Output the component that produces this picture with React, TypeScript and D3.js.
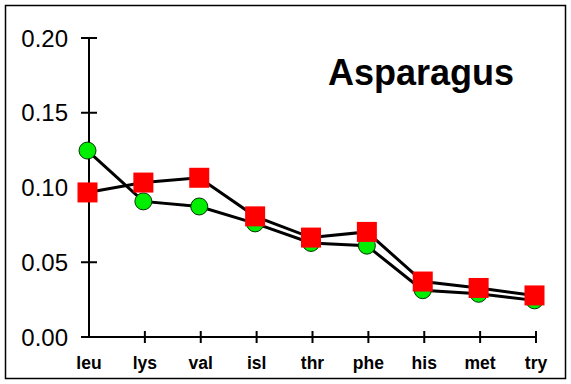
import React from "react";
import * as d3 from "d3";

const categories = ["leu", "lys", "val", "isl", "thr", "phe", "his", "met", "try"];
const greenSeries = [0.1247, 0.0907, 0.0873, 0.076, 0.0629, 0.0611, 0.0313, 0.0289, 0.0245];
const redSeries = [0.0967, 0.1033, 0.1065, 0.0807, 0.0665, 0.0703, 0.0371, 0.0328, 0.0278];
const yTicks = [0, 0.05, 0.1, 0.15, 0.2];
const title = "Asparagus";

export default function App() {
  const W = 571, H = 384;
  const x = d3.scalePoint<string>().domain(categories).range([89, 536]);
  const y = d3.scaleLinear().domain([0, 0.2]).range([337, 38]);
  const mx = (c: string) => (x(c) as number) - 1.5;
  const line = d3
    .line<number>()
    .x((_, i) => mx(categories[i]))
    .y((d) => y(d));
  const font = "'Liberation Sans', Arial, sans-serif";
  return (
    <svg width={W} height={H} style={{ position: "absolute", left: 0, top: 0, background: "#fff" }}>
      <rect x={5.5} y={5.5} width={560} height={373} fill="#fff" stroke="#000" strokeWidth={1.5} />
      {/* y axis */}
      <line x1={89} x2={89} y1={y(0.2)} y2={y(0)} stroke="#000" strokeWidth={2} />
      {yTicks.map((t) => (
        <g key={t}>
          <line x1={81} x2={t === 0 ? 89 : 97} y1={y(t)} y2={y(t)} stroke="#000" strokeWidth={2} />
          <text
            x={68}
            y={y(t)}
            dy="0.36em"
            textAnchor="end"
            fontFamily={font}
            fontSize={24}
            fill="#000"
          >
            {d3.format(".2f")(t)}
          </text>
        </g>
      ))}
      {/* x axis */}
      <line x1={81} x2={x(categories[categories.length - 1]) as number} y1={y(0)} y2={y(0)} stroke="#000" strokeWidth={2} />
      {categories.map((c, i) => (
        <g key={c}>
          {i > 0 && (
            <line x1={x(c)} x2={x(c)} y1={331} y2={343} stroke="#000" strokeWidth={2} />
          )}
          <text
            x={x(c)}
            y={369}
            textAnchor="middle"
            fontFamily={font}
            fontWeight="bold"
            fontSize={17.5}
            fill="#000"
          >
            {c}
          </text>
        </g>
      ))}
      {/* green series */}
      <path d={line(greenSeries) || ""} fill="none" stroke="#000" strokeWidth={3} />
      {greenSeries.map((v, i) => (
        <circle key={"g" + i} cx={mx(categories[i])} cy={y(v)} r={8.5} fill="#00ee00" stroke="#003300" strokeWidth={1} />
      ))}
      {/* red series */}
      <path d={line(redSeries) || ""} fill="none" stroke="#000" strokeWidth={3} />
      {redSeries.map((v, i) => (
        <rect key={"r" + i} x={mx(categories[i]) - 10} y={y(v) - 10} width={20} height={20} fill="#ff0000" />
      ))}
      <text x={328} y={85} fontFamily={font} fontWeight="bold" fontSize={36} fill="#000">
        {title}
      </text>
    </svg>
  );
}
